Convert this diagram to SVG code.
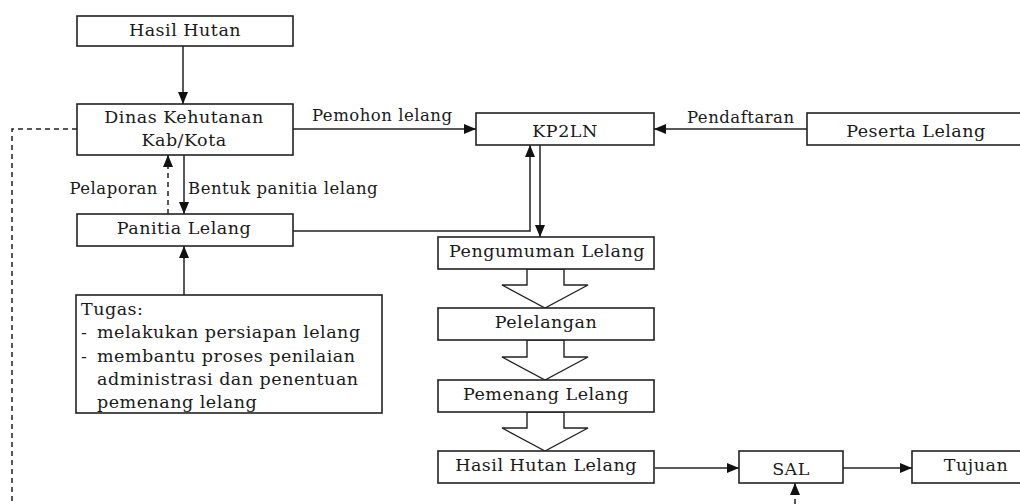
<svg xmlns="http://www.w3.org/2000/svg" width="1020" height="504" viewBox="0 0 1020 504">
<style>
.box{fill:#fff;stroke:#222;stroke-width:1.6}
.ln{fill:none;stroke:#222;stroke-width:1.5}
.dash{fill:none;stroke:#222;stroke-width:1.5;stroke-dasharray:5 4}
.blk{fill:#fff;stroke:#222;stroke-width:1.4}
text{font-family:"DejaVu Serif","Liberation Serif",serif;font-size:17.5px;fill:#1a1a1a;letter-spacing:0.5px}
.c{text-anchor:middle}
.sm{font-size:16.5px}
</style>
<defs>
<marker id="ah" markerUnits="userSpaceOnUse" markerWidth="12" markerHeight="10" refX="12" refY="5" orient="auto">
<path d="M0,0 L12,5 L0,10 z" fill="#111"/>
</marker>
</defs>
<g id="connectors">
<line class="ln" x1="183" y1="46" x2="183" y2="104" marker-end="url(#ah)"/>
<line class="ln" x1="184" y1="155" x2="184" y2="214" marker-end="url(#ah)"/>
<line class="dash" x1="168" y1="214" x2="168" y2="155" marker-end="url(#ah)"/>
<polyline class="dash" points="77,129 12,129 12,504"/>
<line class="ln" x1="293" y1="129" x2="476" y2="129" marker-end="url(#ah)"/>
<line class="ln" x1="807" y1="129" x2="654" y2="129" marker-end="url(#ah)"/>
<polyline class="ln" points="293,231 530,231 530,145" marker-end="url(#ah)"/>
<line class="ln" x1="540" y1="145" x2="540" y2="237" marker-end="url(#ah)"/>
<line class="ln" x1="184" y1="295" x2="184" y2="246" marker-end="url(#ah)"/>
<line class="ln" x1="655" y1="468" x2="739" y2="468" marker-end="url(#ah)"/>
<line class="ln" x1="843" y1="468" x2="912" y2="468" marker-end="url(#ah)"/>
<line class="dash" x1="795" y1="504" x2="795" y2="483" marker-end="url(#ah)"/>
<polygon class="blk" points="527,269 527,285 502,285 545,308 588,285 564,285 564,269"/>
<polygon class="blk" points="527,340 527,357 502,357 545,380 588,357 564,357 564,340"/>
<polygon class="blk" points="527,412 527,428 502,428 545,451 588,428 564,428 564,412"/>
<text x="312" y="121" class="sm">Pemohon lelang</text>
<text x="687" y="123" class="sm">Pendaftaran</text>
<text x="158" y="194" class="sm" text-anchor="end">Pelaporan</text>
<text x="188" y="194" class="sm">Bentuk panitia lelang</text>
</g>
<g id="hasil-hutan">
<rect class="box" x="77" y="16" width="216" height="30"/>
<text class="c" x="185" y="36">Hasil Hutan</text>
</g>
<g id="dinas">
<rect class="box" x="77" y="104" width="216" height="51"/>
<text class="c" x="184" y="123">Dinas Kehutanan</text>
<text class="c" x="184" y="146">Kab/Kota</text>
</g>
<g id="panitia">
<rect class="box" x="77" y="214" width="216" height="32"/>
<text class="c" x="184" y="234">Panitia Lelang</text>
</g>
<g id="tugas">
<rect class="box" x="76" y="295" width="306" height="118"/>
<text x="81" y="315">Tugas:</text>
<text x="81" y="338">-</text>
<text x="97" y="338">melakukan persiapan lelang</text>
<text x="81" y="362">-</text>
<text x="97" y="362">membantu proses penilaian</text>
<text x="97" y="385">administrasi dan penentuan</text>
<text x="97" y="408">pemenang lelang</text>
</g>
<g id="kp2ln">
<rect class="box" x="476" y="113" width="178" height="32"/>
<text class="c" x="565" y="137">KP2LN</text>
</g>
<g id="peserta">
<rect class="box" x="807" y="113" width="220" height="32"/>
<text class="c" x="916" y="137">Peserta Lelang</text>
</g>
<g id="pengumuman">
<rect class="box" x="438" y="237" width="216" height="32"/>
<text class="c" x="547" y="257">Pengumuman Lelang</text>
</g>
<g id="pelelangan">
<rect class="box" x="438" y="308" width="216" height="32"/>
<text class="c" x="546" y="328">Pelelangan</text>
</g>
<g id="pemenang">
<rect class="box" x="438" y="380" width="216" height="32"/>
<text class="c" x="546" y="400">Pemenang Lelang</text>
</g>
<g id="hasil-hutan-lelang">
<rect class="box" x="438" y="451" width="216" height="32"/>
<text class="c" x="546" y="471">Hasil Hutan Lelang</text>
</g>
<g id="sal">
<rect class="box" x="739" y="451" width="104" height="32"/>
<text class="c" x="791" y="475">SAL</text>
</g>
<g id="tujuan">
<rect class="box" x="912" y="451" width="115" height="32"/>
<text class="c" x="976" y="471">Tujuan</text>
</g>
</svg>
